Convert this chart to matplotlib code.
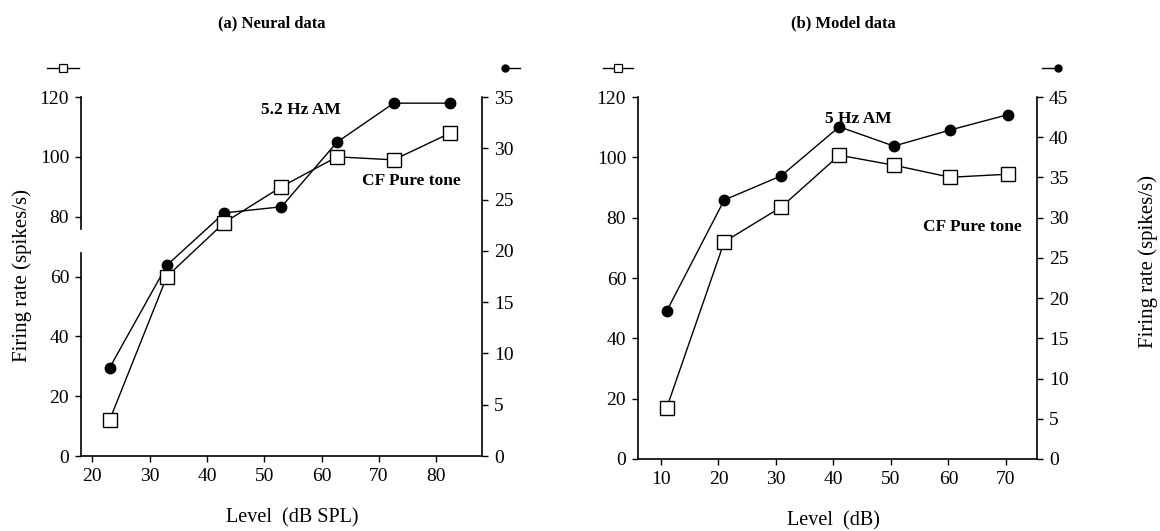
import matplotlib
matplotlib.use("Agg")
import matplotlib.pyplot as plt

plt.rcParams["font.family"] = ["Liberation Serif", "DejaVu Serif"]

# (a) Neural data
neural_level = [23, 33, 43, 53, 62.7, 72.6, 82.5]
neural_tone = [12, 60, 78, 90, 100, 99, 108]           # left axis, spikes/s
neural_am = [8.6, 18.6, 23.7, 24.3, 30.6, 34.4, 34.4]  # right axis, spikes/s

# (b) Model data
model_level = [11, 21, 30.9, 41, 50.5, 60.3, 70.3]
model_tone = [17, 72, 83.5, 100.7, 97.4, 93.4, 94.4]
model_am = [18.4, 32.2, 35.2, 41.3, 38.9, 40.9, 42.8]

TICK_FS = 14


def style_axes(ax, ax2):
    for a in (ax, ax2):
        a.spines["top"].set_visible(False)
        for s in a.spines.values():
            s.set_linewidth(1.2)
        a.tick_params(direction="out", length=4, width=1.0, labelsize=TICK_FS, pad=4.5)
    ax.spines["right"].set_visible(False)
    ax2.spines["left"].set_visible(False)
    ax2.spines["bottom"].set_visible(False)


def panel(rect, level, tone, am, xlim, xticks, r_max, ann_am, ann_tone, icons):
    ax = fig.add_axes(rect)
    ax2 = ax.twinx()
    ax.set_zorder(ax2.get_zorder() + 1)
    ax.patch.set_visible(False)
    ax2.plot(level, am, "-o", color="black", lw=1.0, ms=7.5, mfc="black", zorder=3)
    ax.plot(level, tone, "-s", color="black", lw=1.0, ms=9.5, mfc="white",
            mec="black", mew=1.0, zorder=4)
    ax.set_xlim(*xlim)
    ax.set_ylim(0, 120)
    ax2.set_ylim(0, r_max)
    ax.set_xticks(xticks)
    ax.set_yticks(range(0, 121, 20))
    ax2.set_yticks(range(0, r_max + 1, 5))
    style_axes(ax, ax2)
    ax.text(*ann_am[1:], ann_am[0], fontsize=12.5, fontweight="bold", ha="center", va="center")
    ax.text(*ann_tone[1:], ann_tone[0], fontsize=12.5, fontweight="bold", ha="center", va="center")
    # axis key icons above the two y axes
    (sx0, sx1, sxm), (cx0, cx1, cxm), iy = icons
    ax.plot([sx0, sx1], [iy, iy], color="black", lw=1.0, transform=ax.transAxes, clip_on=False)
    ax.plot([sxm], [iy], "s", ms=5.5, mfc="white", mec="black", mew=0.9,
            transform=ax.transAxes, clip_on=False)
    ax.plot([cx0, cx1], [iy, iy], color="black", lw=1.0, transform=ax.transAxes, clip_on=False)
    ax.plot([cxm], [iy], "o", ms=5, color="black", transform=ax.transAxes, clip_on=False)
    return ax, ax2


fig = plt.figure(figsize=(11.6, 5.31), dpi=100)

axa, axa2 = panel([0.0698, 0.1412, 0.3457, 0.6761], neural_level, neural_tone, neural_am,
                  (18, 88), range(20, 81, 10), 35,
                  ("5.2 Hz AM", 56.4, 115.5), ("CF Pure tone", 75.6, 92),
                  ((-0.085, -0.005, -0.045), (1.055, 1.095, 1.057), 1.081))
# broken left axis
axa.spines["left"].set_visible(False)
for y0, y1 in [(0, 68), (76, 120)]:
    axa.plot([0, 0], [y0, y1], color="black", lw=1.2,
             transform=axa.get_yaxis_transform(), clip_on=False)

axb, axb2 = panel([0.550, 0.1356, 0.344, 0.6817], model_level, model_tone, model_am,
                  (6, 75.4), range(10, 71, 10), 45,
                  ("5 Hz AM", 44.3, 112.6), ("CF Pure tone", 64.1, 76.8),
                  ((-0.088, -0.013, -0.05), (1.013, 1.053, 1.053), 1.08))

fig.text(272 / 1160, 1 - 23 / 531, "(a) Neural data", fontsize=12, fontweight="bold",
         ha="center", va="center")
fig.text(843 / 1160, 1 - 23 / 531, "(b) Model data", fontsize=12, fontweight="bold",
         ha="center", va="center")
fig.text(292 / 1160, 1 - 518 / 531, "Level  (dB SPL)", fontsize=14.5, ha="center", va="center")
fig.text(833 / 1160, 1 - 521 / 531, "Level  (dB)", fontsize=14.5, ha="center", va="center")
fig.text(22 / 1160, 1 - 276 / 531, "Firing rate (spikes/s)", fontsize=15, rotation=90,
         ha="center", va="center")
fig.text(1148 / 1160, 1 - 262 / 531, "Firing rate (spikes/s)", fontsize=15, rotation=90,
         ha="center", va="center")

fig.savefig("out.png", dpi=100)
